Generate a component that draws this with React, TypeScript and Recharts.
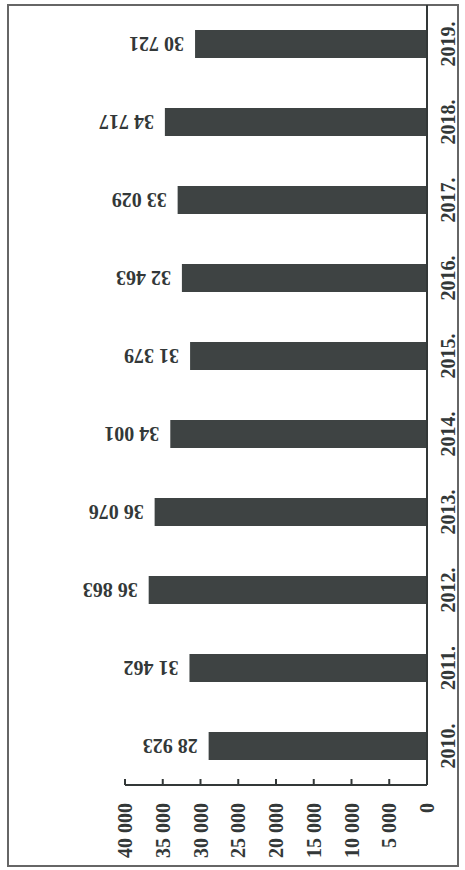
import React from 'react';
import { BarChart, Bar, XAxis, YAxis, LabelList } from 'recharts';

const categories = ['2010.', '2011.', '2012.', '2013.', '2014.', '2015.', '2016.', '2017.', '2018.', '2019.'];
const values = [28923, 31462, 36863, 36076, 34001, 31379, 32463, 33029, 34717, 30721];
const valueTicks = [0, 5000, 10000, 15000, 20000, 25000, 30000, 35000, 40000];

const data = categories.map((c, i) => ({ year: c, value: values[i] }));

const FONT = '"Liberation Serif", "Times New Roman", serif';
const INK = '#333838';
const BAR = '#3e4343';

const fmt = (v: number) => (v === 0 ? '0' : `${Math.round(v / 1000)} 000`);

const XTick = (props: any) => {
  const { x, y, payload } = props;
  const ty = y + 18;
  return (
    <g>
      <line x1={x} y1={y} x2={x} y2={y - 6} stroke={INK} strokeWidth={2} />
      <text
        x={x}
        y={ty}
        transform={`rotate(-90, ${x}, ${ty})`}
        textAnchor="end"
        dominantBaseline="central"
        fontFamily={FONT}
        fontWeight="bold"
        fontSize={20}
        fill={INK}
      >
        {fmt(payload.value)}
      </text>
    </g>
  );
};

const YTick = (props: any) => {
  const { x, y, payload } = props;
  const tx = x + 21;
  return (
    <text
      x={tx}
      y={y}
      transform={`rotate(-90, ${tx}, ${y})`}
      textAnchor="middle"
      dominantBaseline="central"
      fontFamily={FONT}
      fontWeight="bold"
      fontSize={20}
      fill={INK}
    >
      {payload.value}
    </text>
  );
};

const ValueLabel = (props: any) => {
  const { x, y, width, height, value } = props;
  const left = Math.min(x, x + width);
  const cy = y + height / 2;
  const px = left - 11;
  return (
    <text
      x={px}
      y={cy}
      transform={`rotate(180, ${px}, ${cy})`}
      textAnchor="start"
      dominantBaseline="central"
      fontFamily={FONT}
      fontWeight="bold"
      fontSize={20}
      fill={INK}
    >
      {fmt(value).replace(' 000', '') === fmt(value) ? value : `${Math.floor(value / 1000)} ${String(value % 1000).padStart(3, '0')}`}
    </text>
  );
};

export default function App() {
  return (
    <div style={{ position: 'absolute', left: 0, top: 0, width: 465, height: 870, background: '#fff' }}>
      <div
        style={{
          position: 'absolute',
          left: 7,
          top: 4,
          width: 452,
          height: 863,
          border: '2px solid #666',
          boxSizing: 'border-box',
        }}
      />
      <BarChart
        width={465}
        height={870}
        data={data}
        layout="vertical"
        margin={{ top: 5, right: 0, left: 125, bottom: 0 }}
        barCategoryGap={0}
      >
        <XAxis
          type="number"
          domain={[0, 40000]}
          ticks={valueTicks}
          reversed
          height={85}
          tickSize={0}
          tickMargin={0}
          tickLine={false}
          axisLine={{ stroke: INK, strokeWidth: 2 }}
          tick={<XTick />}
          interval={0}
        />
        <YAxis
          type="category"
          dataKey="year"
          orientation="right"
          reversed
          width={38}
          tickSize={0}
          tickMargin={0}
          tickLine={false}
          axisLine={{ stroke: INK, strokeWidth: 2 }}
          tick={<YTick />}
          interval={0}
        />
        <Bar dataKey="value" fill={BAR} barSize={28} isAnimationActive={false}>
          <LabelList dataKey="value" content={<ValueLabel />} />
        </Bar>
      </BarChart>
    </div>
  );
}
